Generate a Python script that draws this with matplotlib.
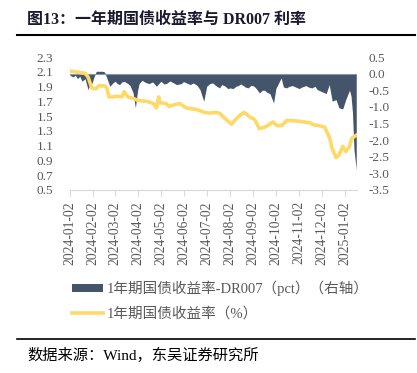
import pandas as pd
import matplotlib
matplotlib.use("Agg")
import matplotlib.pyplot as plt
import matplotlib.dates as mdates
from matplotlib.lines import Line2D
from matplotlib.patches import Patch
from matplotlib.ticker import FuncFormatter

# --- Data ---
# 1Y treasury yield (%), left axis
yield_dates = [
    "2024-01-02", "2024-01-15", "2024-01-22", "2024-01-26", "2024-01-31", "2024-02-06",
    "2024-02-09", "2024-02-17", "2024-02-20", "2024-02-23", "2024-02-28", "2024-03-04",
    "2024-03-11", "2024-03-14", "2024-03-19", "2024-03-26", "2024-04-02", "2024-04-13",
    "2024-04-22", "2024-04-26", "2024-04-29", "2024-05-01", "2024-05-09", "2024-05-13",
    "2024-05-18", "2024-05-27", "2024-06-05", "2024-06-18", "2024-06-29", "2024-07-06",
    "2024-07-13", "2024-07-19", "2024-07-26", "2024-08-04", "2024-08-08", "2024-08-15",
    "2024-08-21", "2024-08-28", "2024-09-04", "2024-09-10", "2024-09-17", "2024-09-24",
    "2024-09-28", "2024-10-04", "2024-10-11", "2024-10-16", "2024-10-24", "2024-11-02",
    "2024-11-16", "2024-11-22", "2024-11-29", "2024-12-06", "2024-12-12", "2024-12-16",
    "2024-12-21", "2024-12-25", "2024-12-30", "2025-01-03", "2025-01-08", "2025-01-11",
    "2025-01-17",
]
yield_values = [
    2.11, 2.09, 2.08, 2.03, 1.88, 1.87,
    1.91, 1.91, 1.88, 1.76, 1.76, 1.77,
    1.76, 1.83, 1.76, 1.74, 1.71, 1.70,
    1.67, 1.61, 1.76, 1.68, 1.67, 1.63,
    1.65, 1.67, 1.61, 1.59, 1.55, 1.54,
    1.55, 1.54, 1.47, 1.39, 1.44, 1.51,
    1.55, 1.49, 1.45, 1.33, 1.35, 1.39,
    1.42, 1.37, 1.38, 1.44, 1.44, 1.43,
    1.41, 1.38, 1.37, 1.35, 1.22, 1.06,
    0.94, 0.97, 1.09, 1.02, 1.09, 1.20,
    1.24,
]

# 1Y treasury yield - DR007 (pct), right axis
spread_dates = [
    "2024-01-02", "2024-01-06", "2024-01-09", "2024-01-12", "2024-01-15", "2024-01-18",
    "2024-01-22", "2024-01-26", "2024-01-28", "2024-01-31", "2024-02-03", "2024-02-06",
    "2024-02-14", "2024-02-17", "2024-02-20", "2024-02-24", "2024-02-28", "2024-03-02",
    "2024-03-05", "2024-03-08", "2024-03-11", "2024-03-14", "2024-03-19", "2024-03-22",
    "2024-03-26", "2024-03-29", "2024-04-01", "2024-04-03", "2024-04-07", "2024-04-11",
    "2024-04-16", "2024-04-21", "2024-04-26", "2024-05-02", "2024-05-06", "2024-05-09",
    "2024-05-14", "2024-05-18", "2024-05-23", "2024-05-29", "2024-06-01", "2024-06-05",
    "2024-06-10", "2024-06-14", "2024-06-19", "2024-06-23", "2024-06-28", "2024-07-02",
    "2024-07-06", "2024-07-10", "2024-07-14", "2024-07-19", "2024-07-22", "2024-07-26",
    "2024-07-30", "2024-08-02", "2024-08-06", "2024-08-10", "2024-08-13", "2024-08-16",
    "2024-08-19", "2024-08-22", "2024-08-26", "2024-08-30", "2024-09-03", "2024-09-06",
    "2024-09-10", "2024-09-14", "2024-09-17", "2024-09-20", "2024-09-24", "2024-09-29",
    "2024-10-02", "2024-10-09", "2024-10-12", "2024-10-16", "2024-10-20", "2024-10-24",
    "2024-10-28", "2024-11-02", "2024-11-06", "2024-11-11", "2024-11-15", "2024-11-19",
    "2024-11-23", "2024-11-26", "2024-11-30", "2024-12-03", "2024-12-08", "2024-12-12",
    "2024-12-16", "2024-12-21", "2024-12-25", "2024-12-30", "2025-01-03", "2025-01-08",
    "2025-01-10", "2025-01-12", "2025-01-14", "2025-01-17",
]
spread_values = [
    -0.05, -0.10, -0.05, -0.15, -0.08, -0.23,
    -0.15, -0.48, -0.35, -0.30, -0.10, 0.07,
    0.07, 0.05, -0.13, -0.38, -0.28, -0.23,
    -0.30, -0.33, -0.25, -0.23, -0.30, -0.36,
    -0.58, -1.03, -0.50, -0.30, -0.20, -0.26,
    -0.30, -0.25, -0.38, -0.23, -0.31, -0.30,
    -0.22, -0.27, -0.33, -0.30, -0.24, -0.28,
    -0.33, -0.28, -0.35, -0.48, -0.83, -0.38,
    -0.30, -0.28, -0.36, -0.43, -0.33, -0.37,
    -0.45, -0.43, -0.45, -0.38, -0.36, -0.31,
    -0.35, -0.40, -0.43, -0.35, -0.38, -0.45,
    -0.58, -0.50, -0.50, -0.56, -0.60, -0.88,
    -0.45, -0.13, -0.40, -0.43, -0.38, -0.36,
    -0.40, -0.45, -0.40, -0.36, -0.41, -0.43,
    -0.38, -0.48, -0.52, -0.55, -0.60, -0.33,
    -0.83, -0.78, -1.03, -1.06, -0.78, -0.50,
    -0.66, -1.18, -2.29, -2.89,
]

left_ticks = [0.5, 0.7, 0.9, 1.1, 1.3, 1.5, 1.7, 1.9, 2.1, 2.3]
right_ticks = [-3.5, -3.0, -2.5, -2.0, -1.5, -1.0, -0.5, 0.0, 0.5]

title_text = "图13：一年期国债收益率与 DR007 利率"
label_spread = "1年期国债收益率-DR007（pct）（右轴）"
label_yield = "1年期国债收益率（%）"
source_text = "数据来源：Wind，东吴证券研究所"

DARK = "#44546A"
YELLOW = "#FFD966"
GRAY = "#595959"
MIXED = ["Liberation Serif", "Noto Sans CJK SC"]

plt.rcParams["axes.unicode_minus"] = False
plt.rcParams["font.family"] = MIXED

W, H = 417, 373
fig = plt.figure(figsize=(W / 100, H / 100), dpi=100)

# --- Axes placement ---
ax1 = fig.add_axes([70 / W, 1 - 190 / H, (357 - 70) / W, (190 - 57) / H])
ax2 = ax1.twinx()

yd = pd.to_datetime(yield_dates)
sd = pd.to_datetime(spread_dates)

# spread as dark area on the right axis
ax2.fill_between(sd, spread_values, 0, color=DARK, linewidth=0)
ax2.axhline(0, color="#8497B0", linewidth=0.8)
ax2.set_ylim(-3.5, 0.5)
ax2.set_yticks(right_ticks)
ax2.yaxis.set_major_formatter(FuncFormatter(lambda v, p: f"{v:.1f}"))

# yield line on the left axis, drawn above the area
ax1.plot(yd, yield_values, color=YELLOW, linewidth=2.6, solid_joinstyle="round")
ax1.set_ylim(0.5, 2.3)
ax1.set_yticks(left_ticks)
ax1.yaxis.set_major_formatter(FuncFormatter(lambda v, p: f"{v:.1f}"))
ax1.set_zorder(ax2.get_zorder() + 1)
ax1.patch.set_visible(False)

ax1.set_xlim(pd.Timestamp("2024-01-02"), pd.Timestamp("2025-01-18"))
ax1.xaxis.set_major_locator(mdates.MonthLocator(bymonthday=2))
ax1.xaxis.set_major_formatter(mdates.DateFormatter("%Y-%m-%d"))

for ax in (ax1, ax2):
    for s in ("top", "left", "right"):
        ax.spines[s].set_visible(False)
    ax.spines["bottom"].set_color("#D9D9D9")
ax2.spines["bottom"].set_visible(False)

ax1.tick_params(axis="x", colors="#D9D9D9", labelcolor=GRAY, labelsize=9.8,
                labelrotation=90, length=4, pad=4)
ax1.tick_params(axis="y", length=0, labelcolor=GRAY, labelsize=9.5, pad=12)
ax2.tick_params(axis="y", length=0, labelcolor=GRAY, labelsize=9.5, pad=8)

# --- Legend ---
handles = [Patch(facecolor=DARK, edgecolor="none"),
           Line2D([0], [0], color=YELLOW, linewidth=2.6)]
fig.legend(handles, [label_spread, label_yield], loc="upper left",
           bbox_to_anchor=(72 / W, 1 - 281 / H), frameon=False, borderpad=0,
           borderaxespad=0, handlelength=2.1, handleheight=0.45, handletextpad=0.3,
           labelspacing=0.72, prop={"family": MIXED, "size": 10.5}, labelcolor=GRAY)

# --- Title, rules and source ---
fig.text(27 / W, 1 - 20 / H, title_text, fontsize=11.5, fontweight="bold",
         color="#1A1A2E", va="center", ha="left", family=MIXED)
fig.add_artist(Line2D([17 / W, 415 / W], [1 - 35 / H, 1 - 35 / H],
                      color="black", linewidth=1.5, transform=fig.transFigure))
fig.add_artist(Line2D([17 / W, 415 / W], [1 - 339 / H, 1 - 339 / H],
                      color="black", linewidth=1.2, transform=fig.transFigure))
fig.text(27 / W, 1 - 355 / H, source_text, fontsize=11, color="black",
         va="center", ha="left", family=MIXED)

fig.savefig("out.png", dpi=100)
